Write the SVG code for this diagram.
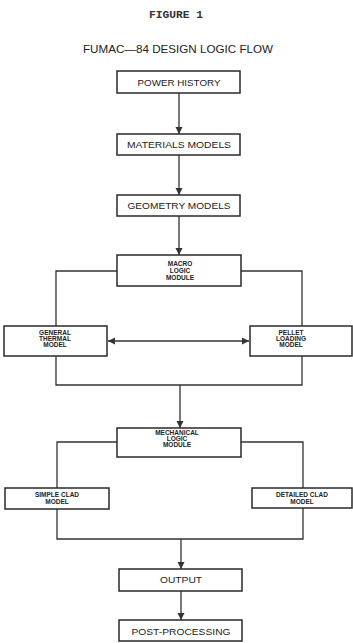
<svg xmlns="http://www.w3.org/2000/svg" width="353" height="643" viewBox="0 0 353 643">
<style>
.box{fill:#fff;stroke:#2a2a2a;stroke-width:1.5}
.ln{fill:none;stroke:#333;stroke-width:1.3}
.t{font-family:"Liberation Sans",Arial,sans-serif;font-size:9px;fill:#222;text-anchor:middle}
.s{font-family:"Liberation Sans",Arial,sans-serif;font-size:6.5px;font-weight:bold;fill:#222;text-anchor:middle}
</style>
<defs>
<marker id="ah" markerWidth="8" markerHeight="8" refX="7" refY="4" orient="auto" markerUnits="userSpaceOnUse">
<path d="M0,0.5 L7,4 L0,7.5 Z" fill="#333"/>
</marker>
<marker id="ahs" markerWidth="8" markerHeight="8" refX="1" refY="4" orient="auto" markerUnits="userSpaceOnUse">
<path d="M8,0.5 L1,4 L8,7.5 Z" fill="#333"/>
</marker>
</defs>
<rect width="353" height="643" fill="#fff"/>
<text x="176" y="18" style="font-family:'Liberation Mono','DejaVu Sans Mono',monospace;font-size:10px;font-weight:bold;fill:#333" text-anchor="middle" textLength="54" lengthAdjust="spacingAndGlyphs">FIGURE 1</text>
<text x="178" y="53" class="t" style="font-size:11px" textLength="190" lengthAdjust="spacingAndGlyphs">FUMAC—84 DESIGN LOGIC FLOW</text>
<g id="connectors">
<path class="ln" d="M179,93 V134" marker-end="url(#ah)"/>
<path class="ln" d="M179,155 V195" marker-end="url(#ah)"/>
<path class="ln" d="M179,216 V255" marker-end="url(#ah)"/>
<path class="ln" d="M117,271 H56 V326"/>
<path class="ln" d="M241,271 H302 V326"/>
<path class="ln" d="M108,341 H249" marker-start="url(#ahs)" marker-end="url(#ah)"/>
<path class="ln" d="M56,356 V385 H302 V356"/>
<path class="ln" d="M180,385 V428" marker-end="url(#ah)"/>
<path class="ln" d="M117,442 H57 V488"/>
<path class="ln" d="M241,442 H303 V488"/>
<path class="ln" d="M57,509 V539 H303 V508"/>
<path class="ln" d="M181,539 V569" marker-end="url(#ah)"/>
<path class="ln" d="M181,591 V620" marker-end="url(#ah)"/>
</g>
<g id="power">
<rect class="box" x="117" y="71" width="123" height="22"/>
<text class="t" x="179" y="86" textLength="83" lengthAdjust="spacingAndGlyphs">POWER HISTORY</text>
</g>
<g id="materials">
<rect class="box" x="117" y="134" width="123" height="21"/>
<text class="t" x="179" y="148" textLength="104" lengthAdjust="spacingAndGlyphs">MATERIALS MODELS</text>
</g>
<g id="geometry">
<rect class="box" x="117" y="195" width="123" height="21"/>
<text class="t" x="179" y="209" textLength="103" lengthAdjust="spacingAndGlyphs">GEOMETRY MODELS</text>
</g>
<g id="macro">
<rect class="box" x="117" y="255" width="124" height="31"/>
<text class="s" x="180" y="266">MACRO</text>
<text class="s" x="180" y="273">LOGIC</text>
<text class="s" x="180" y="280">MODULE</text>
</g>
<g id="thermal">
<rect class="box" x="4" y="326" width="103" height="30"/>
<text class="s" x="55" y="335">GENERAL</text>
<text class="s" x="55" y="341">THERMAL</text>
<text class="s" x="55" y="347">MODEL</text>
</g>
<g id="pellet">
<rect class="box" x="250" y="326" width="102" height="30"/>
<text class="s" x="291" y="335">PELLET</text>
<text class="s" x="291" y="341">LOADING</text>
<text class="s" x="291" y="347">MODEL</text>
</g>
<g id="mechanical">
<rect class="box" x="117" y="428" width="124" height="29"/>
<text class="s" x="177" y="435">MECHANICAL</text>
<text class="s" x="177" y="441">LOGIC</text>
<text class="s" x="177" y="447">MODULE</text>
</g>
<g id="simple">
<rect class="box" x="5" y="488" width="104" height="21"/>
<text class="s" x="57" y="497">SIMPLE CLAD</text>
<text class="s" x="57" y="504">MODEL</text>
</g>
<g id="detailed">
<rect class="box" x="252" y="488" width="100" height="20"/>
<text class="s" x="302" y="497">DETAILED CLAD</text>
<text class="s" x="302" y="504">MODEL</text>
</g>
<g id="output">
<rect class="box" x="119" y="569" width="123" height="22"/>
<text class="t" x="181" y="583" textLength="42" lengthAdjust="spacingAndGlyphs">OUTPUT</text>
</g>
<g id="post">
<rect class="box" x="119" y="620" width="123" height="21"/>
<text class="t" x="181" y="635" textLength="99" lengthAdjust="spacingAndGlyphs">POST-PROCESSING</text>
</g>
</svg>
